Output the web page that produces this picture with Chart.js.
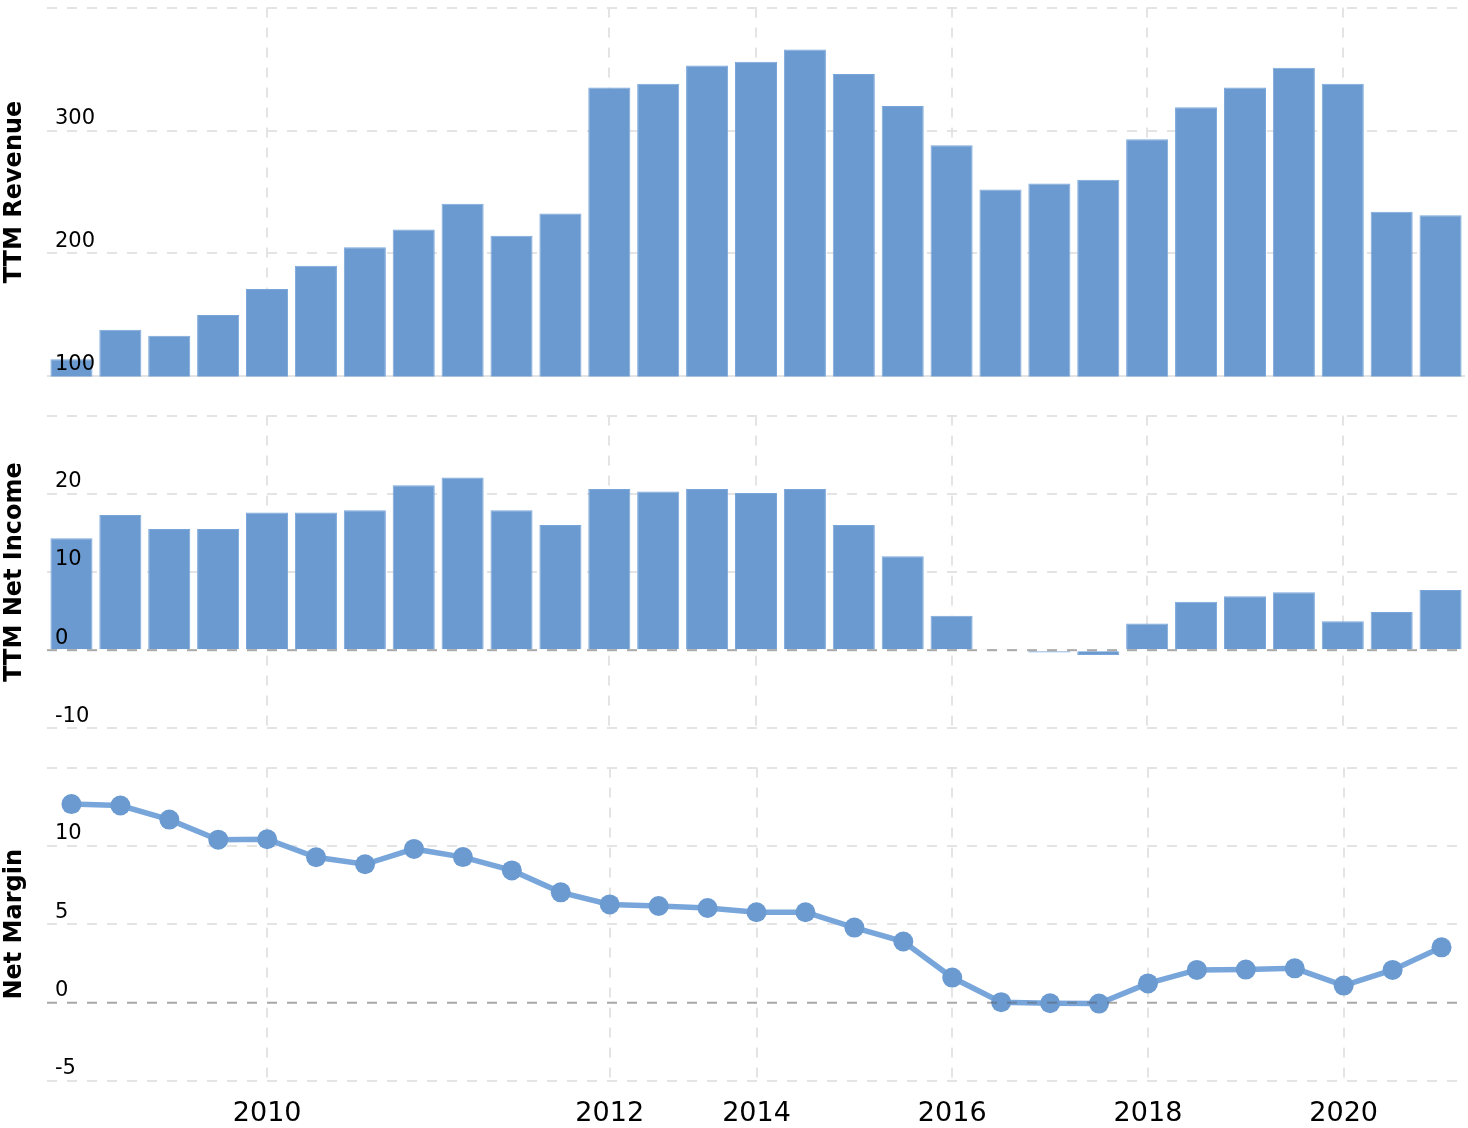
<!DOCTYPE html>
<html>
<head>
<meta charset="utf-8">
<title>TTM Revenue, Net Income and Net Margin</title>
<script src="https://cdn.jsdelivr.net/npm/chart.js@4.4.0/dist/chart.umd.min.js"></script>
<style>
  html, body { margin: 0; padding: 0; background: #ffffff; }
  #wrap { position: relative; width: 1468px; height: 1128px; overflow: hidden; }
  .panel { position: absolute; left: 0; }
  .panel canvas { display: block; }
  #revPanel { top: -13px; }
  #incPanel { top: 395px; }
  #marPanel { top: 747px; }
</style>
</head>
<body>
<div id="wrap">
  <div class="panel" id="revPanel"><canvas id="revenueChart" width="1468" height="410"></canvas></div>
  <div class="panel" id="incPanel"><canvas id="incomeChart" width="1468" height="354"></canvas></div>
  <!-- a little wider: the x labels reserve some room on the right -->
  <div class="panel" id="marPanel"><canvas id="marginChart" width="1476" height="381"></canvas></div>
</div>
<script>
// ==================================================================
// DATA
// ==================================================================
const xLabels = ['', '', '', '', '2010', '', '', '', '', '', '', '2012', '', '', '2014',
                 '', '', '', '2016', '', '', '', '2018', '', '', '', '2020', '', ''];
const revenue = [114, 138, 133, 150, 171, 190, 205, 219.5, 240.5, 214.5, 232.5, 335, 338, 353, 356,
                 366, 346, 320, 288, 252, 257, 260, 293, 319, 335, 351, 338, 234, 231];
const netIncome = [14.3, 17.3, 15.5, 15.5, 17.6, 17.6, 17.9, 21.1, 22.1, 17.9, 16.0, 20.6, 20.3, 20.6, 20.1,
                   20.6, 16.0, 12.0, 4.4, 0.15, -0.3, -0.6, 3.4, 6.2, 6.9, 7.4, 3.7, 4.9, 7.7];
const netMargin = [12.67, 12.58, 11.68, 10.4, 10.43, 9.28, 8.83, 9.81, 9.29, 8.44, 7.04, 6.27, 6.17, 6.04, 5.77,
                   5.77, 4.79, 3.9, 1.6, 0.03, -0.04, -0.06, 1.23, 2.09, 2.11, 2.19, 1.09, 2.09, 3.53];

const BAR_COLOR = '#6a9ad0';
const BAR_EDGE = '#79a6da';
const LINE_COLOR = '#78a6db';
const GRID_COLOR = '#e4e4e4';

Chart.defaults.font.family = '"DejaVu Sans", Verdana, sans-serif';
Chart.defaults.color = '#000000';

// dashed zero line drawn over the bars / line
const zeroLinePlugin = {
    id: 'zeroLine',
    afterDatasetsDraw(chart) {
        const yScale = chart.scales.y;
        if (yScale.min > 0) return;
        const area = chart.chartArea;
        const py = yScale.getPixelForValue(0);
        const ctx = chart.ctx;
        ctx.save();
        ctx.strokeStyle = 'rgba(80, 80, 80, 0.4)';
        ctx.lineWidth = 2;
        ctx.setLineDash([10, 10]);
        ctx.beginPath();
        ctx.moveTo(area.left, py);
        ctx.lineTo(area.right, py);
        ctx.stroke();
        ctx.restore();
    }
};

// shared options for one panel
function panelOptions(cfg) {
    return {
        responsive: false,
        animation: false,
        layout: { padding: cfg.padding },
        plugins: { legend: { display: false }, tooltip: { enabled: false } },
        scales: {
            x: {
                offset: true,
                grid: {
                    offset: false,
                    drawTicks: false,
                    lineWidth: 2,
                    color: (c) => xLabels[c.index] ? GRID_COLOR : 'rgba(0,0,0,0)'
                },
                border: { display: false, dash: [10, 10] },
                ticks: {
                    display: cfg.showX,
                    autoSkip: false,
                    maxRotation: 0,
                    padding: 17,
                    font: { size: 27 },
                    color: '#000000',
                    callback: (v, i) => xLabels[i]
                },
                afterFit: (s) => { s.height = cfg.showX ? 47 : 0; }
            },
            y: {
                min: cfg.min,
                max: cfg.max,
                ticks: {
                    stepSize: cfg.step,
                    mirror: true,
                    padding: 8,
                    labelOffset: -12,
                    z: 1,
                    color: '#000000',
                    font: { size: 21 },
                    callback: (v, i, t) => (i === t.length - 1 ? '' : v)
                },
                grid: { color: GRID_COLOR, lineWidth: 2, drawTicks: false },
                border: {
                    display: false,
                    dash: (c) => (cfg.solidMin && c.tick && c.tick.value === cfg.min) ? [] : [10, 10]
                },
                title: {
                    display: true,
                    text: cfg.title,
                    color: '#000000',
                    font: { size: 24, weight: 'bold' },
                    padding: { top: 0, bottom: 0 }
                },
                afterFit: (s) => { s.width = 47; }
            }
        }
    };
}

// ==================================================================
// 1. TTM REVENUE
// ==================================================================
new Chart(document.getElementById('revenueChart'), {
    type: 'bar',
    data: {
        labels: xLabels,
        datasets: [{ data: revenue, backgroundColor: BAR_COLOR, borderColor: BAR_EDGE, borderWidth: 1,
                     categoryPercentage: 1, barPercentage: 0.86 }]
    },
    options: panelOptions({ min: 100, max: 400, step: 100, title: 'TTM Revenue', showX: false, solidMin: true,
                            padding: { top: 7, bottom: 3, right: 3, left: 0 } })
});

// ==================================================================
// 2. TTM NET INCOME
// ==================================================================
new Chart(document.getElementById('incomeChart'), {
    type: 'bar',
    data: {
        labels: xLabels,
        datasets: [{ data: netIncome, backgroundColor: BAR_COLOR, borderColor: BAR_EDGE, borderWidth: 1,
                     categoryPercentage: 1, barPercentage: 0.86 }]
    },
    options: panelOptions({ min: -10, max: 30, step: 10, title: 'TTM Net Income', showX: false, solidMin: false,
                            padding: { top: 10, bottom: 6, right: 3, left: 0 } }),
    plugins: [zeroLinePlugin]
});

// ==================================================================
// 3. NET MARGIN
// ==================================================================
new Chart(document.getElementById('marginChart'), {
    type: 'line',
    data: {
        labels: xLabels,
        datasets: [{ data: netMargin, borderColor: LINE_COLOR, borderWidth: 5.5, tension: 0,
                     pointRadius: 10, pointBackgroundColor: BAR_COLOR, pointBorderWidth: 0, fill: false }]
    },
    options: panelOptions({ min: -5, max: 15, step: 5, title: 'Net Margin', showX: true, solidMin: false,
                            padding: { top: 10, bottom: 0, right: 3, left: 0 } }),
    plugins: [zeroLinePlugin]
});
</script>
</body>
</html>
